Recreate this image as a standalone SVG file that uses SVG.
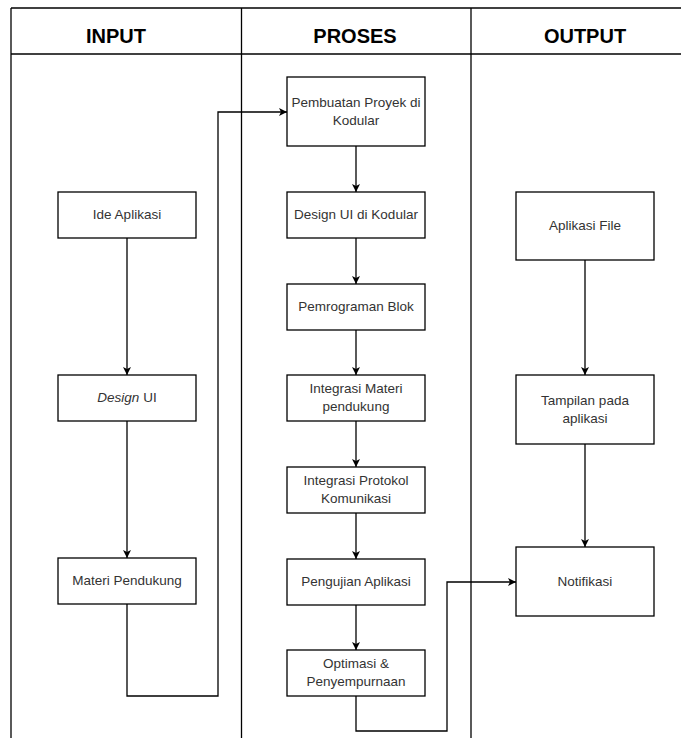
<svg xmlns="http://www.w3.org/2000/svg" width="685" height="738" viewBox="0 0 685 738">
  <style>
    .lane { stroke: #000; stroke-width: 1.3; fill: none; }
    .box { fill: #fff; stroke: #000; stroke-width: 1.3; }
    .hdr { font-family: "Liberation Sans", Arial, sans-serif; font-weight: bold; font-size: 20px; fill: #000; text-anchor: middle; }
    .lbl { font-family: "Liberation Sans", Arial, sans-serif; font-size: 13.5px; fill: #333; text-anchor: middle; }
    .edge { stroke: #000; stroke-width: 1.3; fill: none; marker-end: url(#arrow); }
  </style>
  <defs>
    <marker id="arrow" viewBox="0 0 10 10" refX="10" refY="5" markerWidth="8" markerHeight="8" markerUnits="userSpaceOnUse" orient="auto">
      <path d="M0,0 L10,5 L0,10 L2.5,5 Z" fill="#000"/>
    </marker>
  </defs>
  <rect width="685" height="738" fill="#fff"/>

  <!-- swimlane table -->
  <g id="lanes">
    <line class="lane" x1="11" y1="8" x2="681" y2="8"/>
    <line class="lane" x1="11" y1="54" x2="681" y2="54"/>
    <line class="lane" x1="11" y1="8" x2="11" y2="738"/>
    <line class="lane" x1="241.5" y1="8" x2="241.5" y2="738"/>
    <line class="lane" x1="471" y1="8" x2="471" y2="738"/>
    <text class="hdr" x="116" y="43">INPUT</text>
    <text class="hdr" x="355" y="43">PROSES</text>
    <text class="hdr" x="585" y="43">OUTPUT</text>
  </g>

  <!-- connectors -->
  <g id="connectors">
    <path class="edge" d="M127,238 V375"/>
    <path class="edge" d="M127,421 V558"/>
    <path class="edge" d="M127,604 V696 H218 V112 H287"/>
    <path class="edge" d="M356,146 V192"/>
    <path class="edge" d="M356,238 V284"/>
    <path class="edge" d="M356,330 V375"/>
    <path class="edge" d="M356,421 V467"/>
    <path class="edge" d="M356,513 V559"/>
    <path class="edge" d="M356,605 V650"/>
    <path class="edge" d="M356,696 V731 H447 V582 H516"/>
    <path class="edge" d="M585,260 V375"/>
    <path class="edge" d="M585,444 V547"/>
  </g>

  <!-- input column -->
  <g id="ide-aplikasi">
    <rect class="box" x="58" y="192" width="138" height="46"/>
    <text class="lbl" x="127" y="219">Ide Aplikasi</text>
  </g>
  <g id="design-ui">
    <rect class="box" x="58" y="375" width="138" height="46"/>
    <text class="lbl" x="127" y="402"><tspan font-style="italic">Design</tspan> UI</text>
  </g>
  <g id="materi-pendukung">
    <rect class="box" x="58" y="558" width="138" height="46"/>
    <text class="lbl" x="127" y="585">Materi Pendukung</text>
  </g>

  <!-- process column -->
  <g id="pembuatan-proyek">
    <rect class="box" x="287" y="77" width="138" height="69"/>
    <text class="lbl" x="356" y="107">Pembuatan Proyek di</text>
    <text class="lbl" x="356" y="125">Kodular</text>
  </g>
  <g id="design-ui-kodular">
    <rect class="box" x="287" y="192" width="138" height="46"/>
    <text class="lbl" x="356" y="219">Design UI di Kodular</text>
  </g>
  <g id="pemrograman-blok">
    <rect class="box" x="287" y="284" width="138" height="46"/>
    <text class="lbl" x="356" y="311">Pemrograman Blok</text>
  </g>
  <g id="integrasi-materi">
    <rect class="box" x="287" y="375" width="138" height="46"/>
    <text class="lbl" x="356" y="393">Integrasi Materi</text>
    <text class="lbl" x="356" y="411">pendukung</text>
  </g>
  <g id="integrasi-protokol">
    <rect class="box" x="287" y="467" width="138" height="46"/>
    <text class="lbl" x="356" y="485">Integrasi Protokol</text>
    <text class="lbl" x="356" y="503">Komunikasi</text>
  </g>
  <g id="pengujian-aplikasi">
    <rect class="box" x="287" y="559" width="138" height="46"/>
    <text class="lbl" x="356" y="586">Pengujian Aplikasi</text>
  </g>
  <g id="optimasi">
    <rect class="box" x="287" y="650" width="138" height="46"/>
    <text class="lbl" x="356" y="668">Optimasi &amp;</text>
    <text class="lbl" x="356" y="686">Penyempurnaan</text>
  </g>

  <!-- output column -->
  <g id="aplikasi-file">
    <rect class="box" x="516" y="192" width="138" height="68"/>
    <text class="lbl" x="585" y="230">Aplikasi File</text>
  </g>
  <g id="tampilan-aplikasi">
    <rect class="box" x="516" y="375" width="138" height="69"/>
    <text class="lbl" x="585" y="405">Tampilan pada</text>
    <text class="lbl" x="585" y="423">aplikasi</text>
  </g>
  <g id="notifikasi">
    <rect class="box" x="516" y="547" width="138" height="69"/>
    <text class="lbl" x="585" y="586">Notifikasi</text>
  </g>
</svg>
